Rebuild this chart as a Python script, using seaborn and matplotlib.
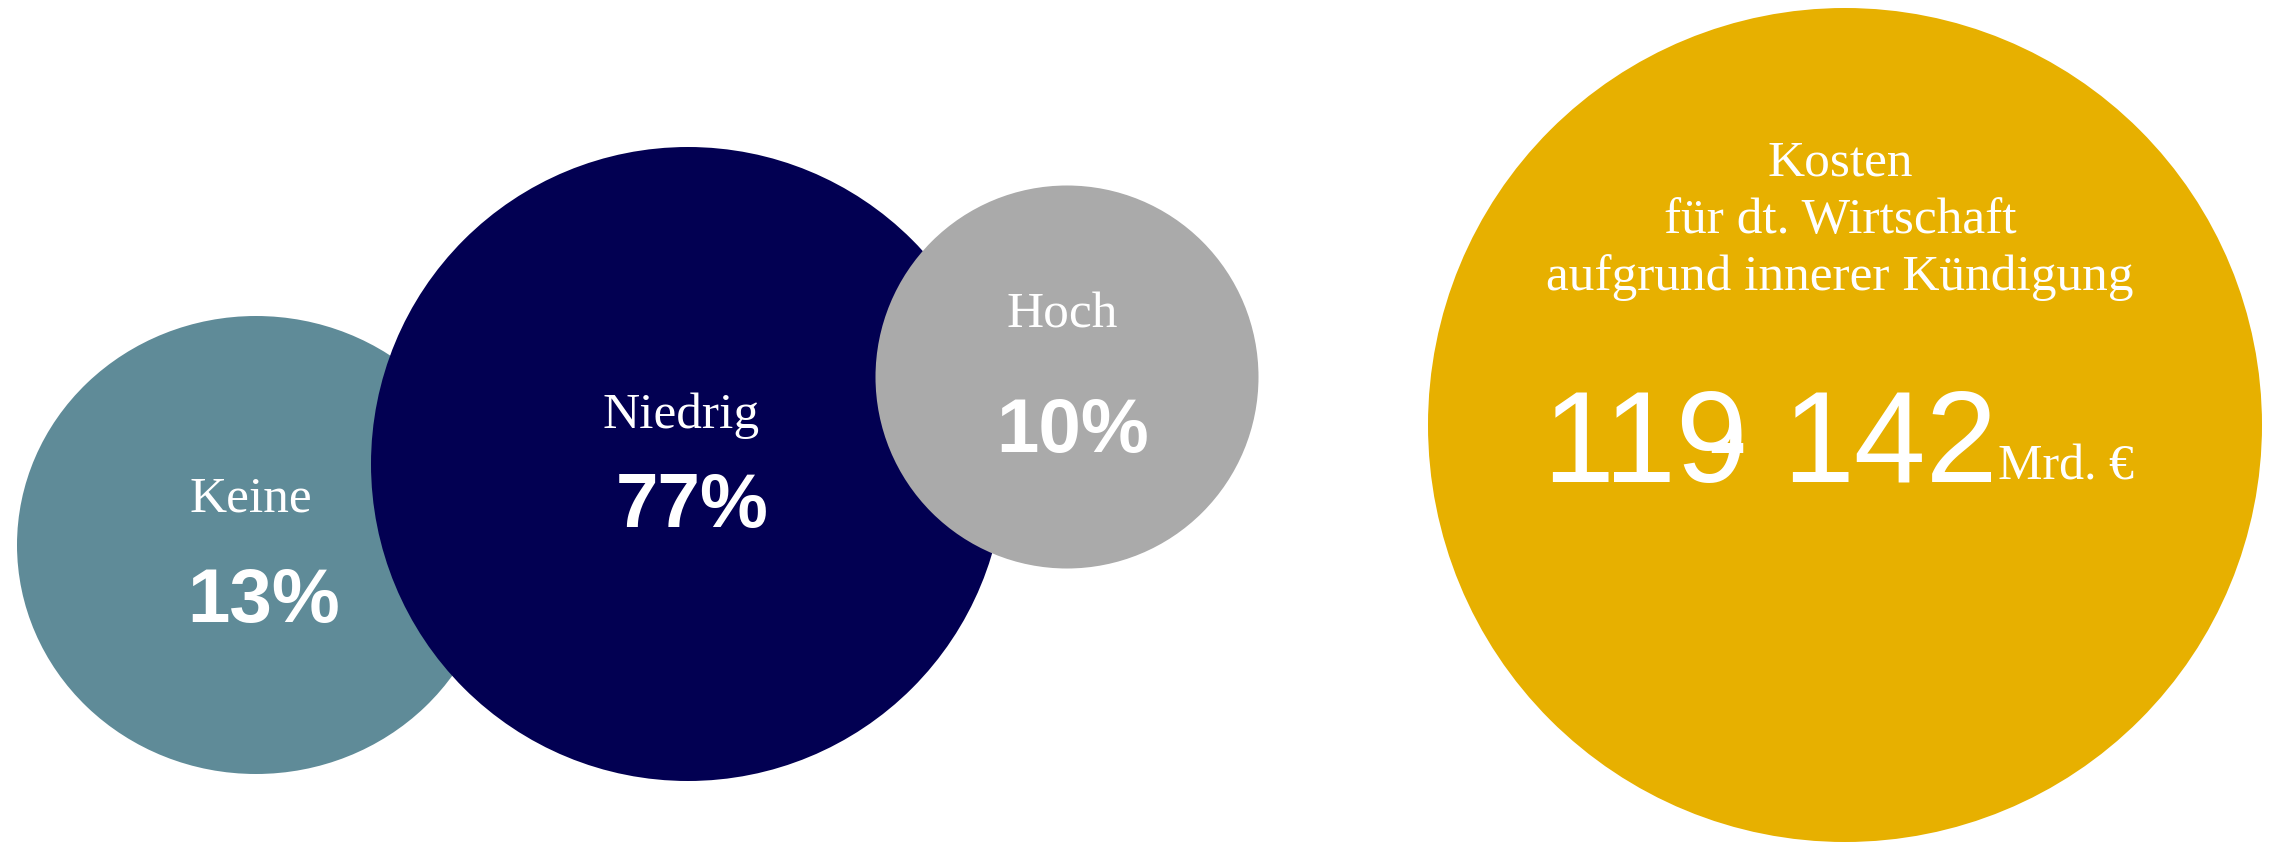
import matplotlib
matplotlib.use("Agg")
import matplotlib.pyplot as plt
from matplotlib.patches import Ellipse
import seaborn as sns

# ---- data ----
categories = ["Keine", "Niedrig", "Hoch"]
shares = [13, 77, 10]
cost_title = ["Kosten", "für dt. Wirtschaft", "aufgrund innerer Kündigung"]
cost_low = 119
cost_high = 142
cost_unit = "Mrd. €"

# ---- layout (pixels) ----
colors = ["#5F8B98", "#020052", "#AAAAAA"]
gold = "#E7B000"
cx = [256, 688, 1067]
cy = [545, 464, 377]
rx = [239, 317, 191.5]
ry = [229, 317, 191.5]
label_x = [251, 681, 1062]
label_y = [512, 428, 328]
pct_x = [264, 692, 1073]
pct_y = [622, 527, 452]
gold_c = (1845, 425)
gold_r = 417

sns.set_theme(style="white")
plt.rcParams["font.family"] = ["Liberation Sans", "DejaVu Sans"]

W, H = 2275, 843
fig = plt.figure(figsize=(W / 100, H / 100), dpi=100)
ax = fig.add_axes([0, 0, 1, 1])
ax.set_xlim(0, W)
ax.set_ylim(H, 0)
ax.axis("off")

serif = ["Liberation Serif", "DejaVu Serif"]
sans = ["Liberation Sans", "DejaVu Sans"]

for i, (cat, val) in enumerate(zip(categories, shares)):
    ax.add_patch(Ellipse((cx[i], cy[i]), 2 * rx[i], 2 * ry[i],
                         facecolor=colors[i], edgecolor="none", zorder=1 + i))
    ax.text(label_x[i], label_y[i], cat, ha="center", va="baseline",
            fontsize=37, color="white", family=serif, zorder=10)
    ax.text(pct_x[i], pct_y[i], f"{val}%", ha="center", va="baseline",
            fontsize=55, color="white", family=sans, fontweight="bold", zorder=10)

ax.add_patch(Ellipse(gold_c, 2 * gold_r, 2 * gold_r, facecolor=gold,
                     edgecolor="none", zorder=1))
for j, line in enumerate(cost_title):
    ax.text(1840, 175 + 57.5 * j, line, ha="center", va="baseline",
            fontsize=37, color="white", family=serif, zorder=10)

ax.text(1748, 482, f"{cost_low}", ha="right", va="baseline",
        fontsize=93, color="white", family=sans, zorder=10)
ax.text(1782, 482, f"{cost_high}", ha="left", va="baseline",
        fontsize=93, color="white", family=sans, zorder=10)
ax.text(1727, 482, "-", ha="center", va="baseline",
        fontsize=93, color="white", family=sans, zorder=11)
ax.text(1998, 480, cost_unit, ha="left", va="baseline",
        fontsize=36, color="white", family=serif, zorder=10)

fig.savefig("out.png", dpi=100, facecolor="white")
